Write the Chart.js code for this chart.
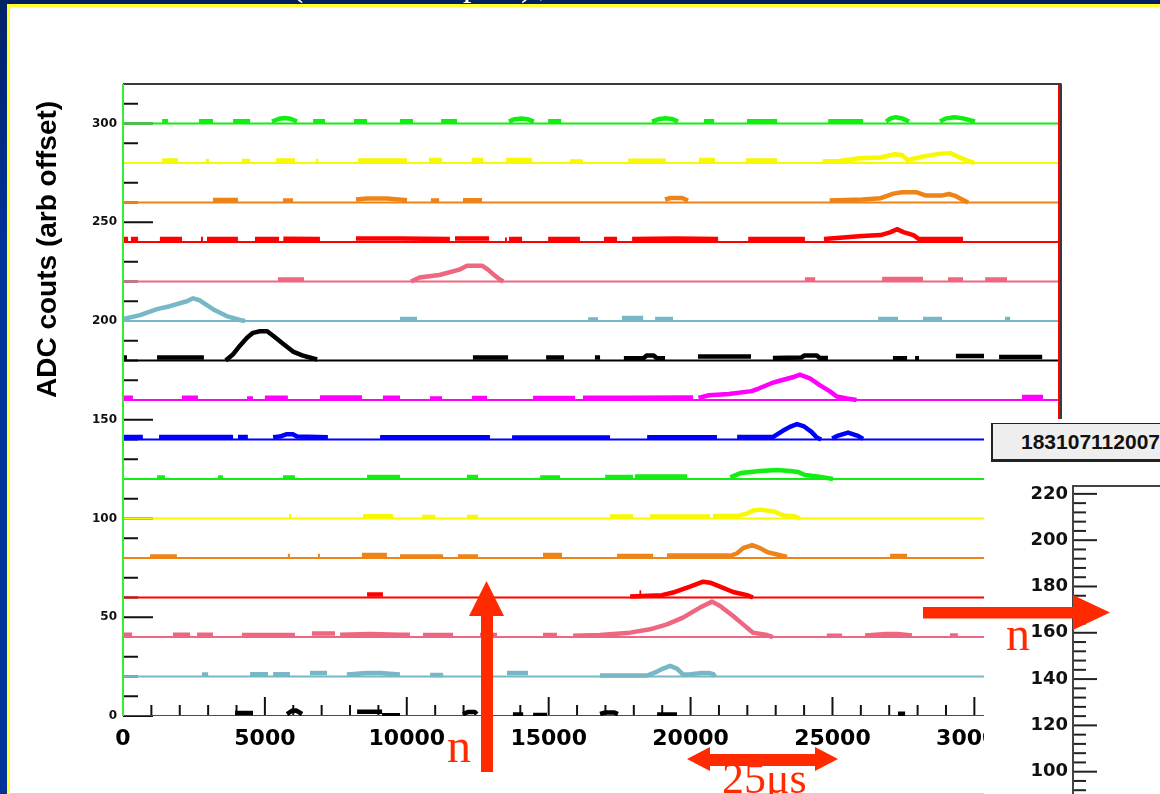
<!DOCTYPE html>
<html>
<head>
<meta charset="utf-8">
<script src="https://cdn.jsdelivr.net/npm/chart.js@4.4.1/dist/chart.umd.min.js"></script>
<style>
  html, body { margin: 0; padding: 0; }
  body { width: 1160px; height: 794px; overflow: hidden; position: relative; background: #002060; }
  .abs { position: absolute; }
  #leftBar { left: 0; top: 0; width: 7px; height: 794px; background: linear-gradient(#002266, #003399 30%, #003399); }
  #yellowEdge { left: 7px; top: 4px; right: 0; bottom: 0; background: #ffff33; }
  #slide { left: 10px; top: 7px; right: 0; bottom: 0; background: #fff; }
  #slideFoot { left: 10px; top: 793px; width: 974px; height: 1px; background: #dcd9a6; }
  #mainChart { left: 0; top: 0; }
  #sidePad { left: 984px; top: 419px; width: 176px; height: 375px; background: #fff; }
  #sideChart { left: 984px; top: 419px; }
  #runLabel { left: 991px; top: 423px; width: 220px; height: 35px; background: #eeeeee;
    border: 1px solid #222; border-left-width: 2px; border-bottom-width: 3px;
    font: bold 21px "Liberation Sans", Arial, sans-serif; line-height: 35px; padding-left: 28px;
    box-sizing: content-box; white-space: nowrap; color: #111; }
  #notes { left: 0; top: 0; }
</style>
</head>
<body>
<div id="leftBar" class="abs"></div>
<div id="yellowEdge" class="abs"></div>
<div id="slide" class="abs"></div>
<div id="slideFoot" class="abs"></div>
<canvas id="mainChart" class="abs" width="1160" height="794" style="width:1160px;height:794px"></canvas>
<div id="sidePad" class="abs"></div>
<canvas id="sideChart" class="abs" width="200" height="600" style="width:200px;height:600px"></canvas>
<div id="runLabel" class="abs">183107112007</div>
<svg id="notes" class="abs" width="1160" height="794">
  <g fill="#ff2a00">
    <rect x="481" y="615" width="12" height="157"/>
    <polygon points="469,616 504,616 486.5,581"/>
    <rect x="923" y="607" width="151" height="11.5"/>
    <polygon points="1073,595 1073,630 1110,612.5"/>
    <rect x="709" y="754" width="107" height="12"/>
    <polygon points="710,747 710,771 687,759"/>
    <polygon points="815,747 815,771 838,759"/>
  </g>
  <g fill="#ff2a00" font-family="Liberation Serif, serif">
    <text x="447" y="762" font-size="48">n</text>
    <text x="1006" y="650" font-size="48">n</text>
    <text x="722" y="793" font-size="44">25μs</text>
  </g>
  <g fill="#ffffff" font-family="Liberation Serif, serif" font-size="34">
    <text x="292" y="-4">(</text>
    <text x="463" y="-4">p</text>
    <text x="521" y="-4">)</text>
    <text x="539" y="-4">,</text>
  </g>
</svg>

<script>
// tick labels
const xTicks = [0, 5000, 10000, 15000, 20000, 25000, 30000];
const yTicks = [0, 50, 100, 150, 200, 250, 300];
const sideTicks = [0, 20, 40, 60, 80, 100, 120, 140, 160, 180, 200, 220];

// channel baselines (arb offset), top to bottom
const traceOffsets = [300, 280, 260, 240, 220, 200, 180, 160, 140, 120, 100, 80, 60, 40, 20, 0];

// pulses above each baseline: segments of [sample, ADC above baseline]
const sig300 = [
  [[1380,1.2],[1590,1.2]], [[2680,1.2],[3170,1.2]], [[3880,1.2],[4480,1.2]],
  [[5250,1],[5500,2.4],[5700,2.8],[5900,2.4],[6130,1]],
  [[6700,1.2],[7120,1.2]], [[8140,1.2],[8600,1.2]], [[9760,1.2],[10220,1.2]], [[11210,1.2],[11770,1.2]],
  [[13600,1],[13800,2.2],[14050,2.5],[14250,2.2],[14480,1]],
  [[14980,1.2],[15440,1.2]],
  [[18640,1],[18900,2.3],[19150,2.6],[19350,2.3],[19560,1]],
  [[20470,1.2],[20830,1.2]], [[21990,1.2],[23050,1.2]], [[24850,1.2],[26080,1.2]],
  [[26890,1],[27050,2.6],[27230,3.2],[27450,2.6],[27700,1]],
  [[28790,1],[29000,2.6],[29300,3.2],[29600,2.6],[30020,1]]
];
const sig280 = [
  [[1380,1.3],[1940,1.3]], [[2920,1],[3030,1]], [[4190,1],[4480,1]], [[5390,1.3],[6060,1.3]],
  [[6800,1],[6880,1]], [[8280,1.3],[10010,1.3]], [[10780,1.5],[11240,1.5]], [[12300,1.5],[12690,1.5]],
  [[13500,1.5],[14410,1.5]], [[15750,0.8],[16210,0.8]], [[17800,1.2],[19130,1.2]],
  [[20300,1.5],[20860,1.5]], [[21950,1.3],[23050,1.3]],
  [[24650,0.8],[25250,1],[25950,2.4],[26700,2.8],[27200,4.4],[27450,4],[27650,1.5],[28100,3],
   [28700,4.5],[29150,5],[29450,3],[29800,1],[30000,0]]
];
const sig260 = [
  [[3170,1.3],[4050,1.3]], [[5640,1],[5990,1]],
  [[8210,1.5],[8600,2],[9300,2],[10010,1.2]],
  [[10850,1],[11140,1]], [[11980,1.2],[12650,1.2]],
  [[19100,1.5],[19300,2.3],[19700,2.3],[19910,1]],
  [[24900,1],[26050,1.5],[26700,2.2],[27150,4.5],[27450,5.2],[27950,5.2],[28300,3.5],[28850,3.5],
   [29100,4.3],[29300,3.5],[29500,2],[29780,0]]
];
const sig240 = [
  [[0,1.5],[180,1.5]], [[280,1.5],[530,1.5]], [[1300,1.5],[2080,1.5]], [[2750,1.5],[2820,1.5]],
  [[2960,1.5],[4050,1.5]], [[4650,1.5],[5500,1.5]], [[5650,1.7],[6940,1.5]],
  [[8210,1.8],[9760,1.8],[11520,1.5]], [[11700,1.8],[12900,1.8]], [[13460,1.2],[13530,1.2]],
  [[13600,1.5],[14060,1.5]], [[14980,1.5],[16100,1.5]], [[16950,1.5],[17410,1.5]],
  [[17940,1.5],[19500,1.8],[20970,1.5]], [[22030,1.5],[24030,1.5]],
  [[24700,1.5],[26050,3],[26700,3.5],[27050,5],[27270,6.5],[27500,5],[27850,3.5],[28050,1.5],[29600,1.5]]
];
const sig220 = [
  [[5460,1],[6380,1]],
  [[10150,0],[10450,2],[11150,3.3],[11850,6],[12120,8],[12650,8],[12860,6],[13100,3],[13280,1],[13400,0]],
  [[24030,1],[24390,1]], [[26750,1.3],[28190,1.3]], [[29070,1],[29600,1]], [[30380,1],[31150,1]]
];
const sig200 = [
  [[0,1],[600,3],[1200,6],[1650,7.5],[2250,10],[2470,11.5],[2700,10.5],[3170,6],[3650,2.5],[4120,0.5],[4300,0]],
  [[9760,1],[10360,1]], [[16390,0.8],[16740,0.8]], [[17580,1.5],[18330,1.5]], [[18750,1],[19380,1]],
  [[26610,1],[27310,1]], [[28190,1],[28860,1]], [[31080,1],[31260,1]]
];
const sig180 = [
  [[0,1.5],[140,1.5]], [[1200,1.5],[2850,1.5]],
  [[3620,0],[3870,3],[4120,7.5],[4370,11.5],[4580,14],[4830,14.8],[5080,14.8],[5290,12.5],[5640,8.5],
   [5990,4.5],[6340,2.5],[6840,0.5]],
  [[12330,1.5],[13570,1.5]], [[14910,1.5],[15540,1.5]], [[16630,1.5],[16810,1.5]],
  [[17650,1.2],[18350,1.3],[18450,2.5],[18700,2.5],[18800,1.3],[19100,1.2]],
  [[20260,2],[22130,2]],
  [[22900,1.3],[23900,1.5],[24000,2.5],[24450,2.5],[24550,1.3],[24840,1.3]],
  [[27130,1.2],[27630,1.2]], [[27910,1.2],[28050,1.2]], [[29350,2.3],[30340,2.3]], [[30870,1.8],[32390,1.8]]
];
const sig160 = [
  [[0,1.2],[350,1.2]], [[2080,1.2],[2640,1.2]], [[4370,0.8],[4580,0.8]], [[5000,1.2],[5810,1.2]],
  [[6940,1.3],[8420,1.3]], [[9160,1.2],[9760,1.2]], [[10820,0.8],[11240,0.8]], [[12300,1],[12830,1]],
  [[14450,1],[15930,1]], [[16210,1.2],[17760,1.2],[20090,1.3]],
  [[20280,1],[20650,2.4],[21350,3],[22150,4.5],[22400,5.8],[22850,8.5],[23200,10],[23600,11.5],
   [23850,12.8],[24200,11],[24550,7.5],[24900,4.5],[25150,1.8],[25500,0.8],[25850,0]],
  [[31680,1.5],[32420,1.5]]
];
const sig140 = [
  [[0,1.3],[700,1.3]], [[1270,1.3],[3880,1.3]], [[4050,1.3],[4400,1.3]],
  [[5290,1.2],[5530,1.5],[5750,2.6],[6000,2.6],[6130,1.5],[7220,1.2]],
  [[9060,1.2],[12930,1.2]], [[13710,1],[17160,1]], [[18470,1.2],[20930,1.2]],
  [[21640,1.3],[22910,1.3],[23250,4.4],[23500,6.4],[23750,7.8],[24000,6.6],[24250,4],[24450,1],[24600,0]],
  [[24990,0.5],[25200,2],[25550,3.5],[25870,2],[26080,0.3]]
];
const sig120 = [
  [[1200,0.8],[1480,0.8]], [[3350,0.8],[3520,0.8]], [[5640,0.8],[6060,0.8]], [[8600,1],[9760,1]],
  [[12120,1],[12510,1]], [[14700,0.8],[15400,0.8]], [[16990,1],[17970,1]], [[18040,1.3],[19880,1.3]],
  [[21400,0.8],[21760,3],[22450,4],[23050,4.5],[23500,4],[23800,3.5],[24030,2],[24540,1.2],[25020,0]]
];
const sig100 = [
  [[5850,1.2],[5920,1.2]], [[8460,1.2],[9520,1.2]], [[10540,0.7],[11000,0.7]], [[12120,0.7],[12510,0.7]],
  [[17160,1],[17970,1]], [[18570,1],[20690,1]],
  [[20790,1.3],[21640,1.3],[21980,2.5],[22200,4],[22450,4.5],[22950,3.5],[23300,1.5],[23650,1.2],[23850,0]]
];
const sig80 = [
  [[950,0.8],[1900,0.8]], [[5810,1],[5880,1]], [[6870,1],[6940,1]], [[8420,1.5],[9300,1.5]],
  [[9760,0.8],[11280,0.8]], [[11800,0.8],[12510,0.8]], [[14800,1.5],[15470,1.5]], [[17410,1],[18680,1]],
  [[19170,1.3],[21320,1.3],[21390,1],[21640,2.4],[21850,5],[22170,6.5],[22450,5],[22700,3],[23050,1.8],[23400,0.5]],
  [[27030,1],[27630,1]]
];
const sig60 = [
  [[8600,1.5],[9160,1.5]], [[18200,2.5],[18260,2.5]],
  [[17870,0.5],[18990,1.2],[19380,2.5],[19980,5.5],[20440,8],[20690,7.5],[21040,5.5],[21500,2.8],[21990,1.2],[22200,0]]
];
const sig40 = [
  [[0,1.2],[320,1.2]], [[1760,1.2],[2360,1.2]], [[2610,1.2],[3170,1.2]], [[4190,1],[6060,1]],
  [[6660,1.8],[7470,1.8]], [[7650,1.2],[8700,1.5],[9760,1.2],[10110,1.2]], [[10570,1],[11630,1]],
  [[12580,1],[13180,1]], [[14800,1],[15290,1]],
  [[15860,0.6],[16810,1],[17870,2.2],[18570,3.9],[19170,6.4],[19730,9.8],[20330,14.9],[20760,17.9],
   [21040,15.7],[21500,10.6],[21850,6.4],[22200,2.2],[22700,1],[22900,0]],
  [[24800,0.6],[25340,0.6]], [[26150,0.8],[26900,1.5],[27300,1.5],[27800,0.8]], [[29140,0.8],[29420,0.8]]
];
const sig20 = [
  [[2780,1],[3000,1]], [[4480,1.2],[5110,1.2]], [[5290,1.2],[5880,1.2]], [[6590,1.8],[7190,1.8]],
  [[7890,1],[8600,1.8],[9060,1.8],[9760,1]], [[10820,0.8],[11280,0.8]], [[13530,1.8],[14270,1.8]],
  [[16810,0.5],[18470,0.5],[18820,2.5],[19030,4],[19280,5.4],[19520,4],[19740,1],[20000,1.2],
   [20400,1.8],[20650,1.8],[20800,1.2],[20860,0]]
];
const sig0 = [
  [[3950,1.5],[4580,1.5]], [[5780,1],[5950,2.6],[6100,2.8],[6310,1]], [[8250,2.2],[9130,2.2]],
  [[9130,0.4],[9760,0.4]], [[11980,1],[12150,2],[12400,2],[12470,1]], [[13740,0.8],[14100,0.8]],
  [[14450,0.5],[14940,0.5]], [[16810,1],[17000,1.8],[17300,1.8],[17440,1]], [[18820,0.8],[19520,0.8]],
  [[27310,1.2],[27560,1.2]]
];
const traceSignals = [sig300, sig280, sig260, sig240, sig220, sig200, sig180, sig160,
                      sig140, sig120, sig100, sig80, sig60, sig40, sig20, sig0];

// styles
const baseColors = ['#11ee11', '#f8f800', '#ee8418', '#ff0000', '#ee6680', '#77b7c6', '#000000', '#ff00ff',
                    '#0000ff', '#11ee11', '#f8f800', '#ee8418', '#ff0000', '#ee6680', '#77b7c6', '#ff0000'];
const pulseColors = baseColors.slice(0, 15).concat(['#000000']);

const X_MAX = 33000;
const Y_MAX = 320;

function pulsePoints(segs, off) {
  const pts = [];
  segs.forEach(seg => {
    seg.forEach(([x, v]) => pts.push({x: x, y: off + v}));
    pts.push({x: seg[seg.length - 1][0], y: null});
  });
  return pts;
}

const datasets = [];
traceOffsets.forEach((off, i) => {
  datasets.push({
    data: pulsePoints(traceSignals[i], off),
    borderColor: pulseColors[i], borderWidth: 4.5, borderJoinStyle: 'round'
  });
  datasets.push({
    data: [{x: 0, y: off}, {x: X_MAX, y: off}],
    borderColor: baseColors[i], borderWidth: 2
  });
});

const rootFrame = {
  id: 'rootFrame',
  beforeDatasetsDraw(chart) {
    const {ctx, chartArea: a, scales: {x, y}} = chart;
    ctx.save();
    ctx.strokeStyle = '#111';
    ctx.lineWidth = 2;
    for (let v = 0; v < Y_MAX; v += 10) {
      const py = y.getPixelForValue(v);
      ctx.beginPath();
      ctx.moveTo(a.left, py);
      ctx.lineTo(a.left + (v % 50 === 0 ? 30 : 15), py);
      ctx.stroke();
    }
    for (let v = 0; v < X_MAX; v += 1000) {
      const px = x.getPixelForValue(v);
      ctx.beginPath();
      ctx.moveTo(px, a.bottom);
      ctx.lineTo(px, a.bottom - (v % 5000 === 0 ? 19 : 11));
      ctx.stroke();
    }
    ctx.restore();
  },
  afterDatasetsDraw(chart) {
    const {ctx, chartArea: a} = chart;
    ctx.save();
    ctx.lineWidth = 2;
    ctx.strokeStyle = '#3a3a3a';
    ctx.beginPath(); ctx.moveTo(a.left, a.top); ctx.lineTo(a.right + 2, a.top); ctx.stroke();
    ctx.beginPath(); ctx.moveTo(a.right + 1.5, a.top); ctx.lineTo(a.right + 1.5, a.bottom); ctx.stroke();
    ctx.strokeStyle = '#ff0000';
    ctx.beginPath(); ctx.moveTo(a.right - 0.5, a.top + 1); ctx.lineTo(a.right - 0.5, a.bottom); ctx.stroke();
    ctx.strokeStyle = '#33ee33';
    ctx.beginPath(); ctx.moveTo(a.left, a.top); ctx.lineTo(a.left, a.bottom); ctx.stroke();
    ctx.restore();
  },
  afterDraw(chart) {
    const ctx = chart.ctx;
    ctx.save();
    ctx.translate(56, 398);
    ctx.rotate(-Math.PI / 2);
    ctx.font = 'bold 28px "Liberation Sans", Arial, sans-serif';
    ctx.fillStyle = '#000';
    ctx.textAlign = 'left';
    ctx.textBaseline = 'alphabetic';
    ctx.fillText('ADC couts (arb offset)', 0, 0);
    ctx.restore();
  }
};

new Chart(document.getElementById('mainChart'), {
  type: 'line',
  data: {datasets: datasets},
  options: {
    responsive: false,
    animation: false,
    devicePixelRatio: 1,
    layout: {padding: {left: 0, top: 84, right: 100.5, bottom: 0}},
    plugins: {legend: {display: false}, tooltip: {enabled: false}},
    elements: {point: {radius: 0}, line: {tension: 0}},
    scales: {
      x: {
        type: 'linear', min: 0, max: X_MAX,
        grid: {display: false, drawTicks: false}, border: {display: false},
        afterFit(s) { s.height = 78; },
        afterBuildTicks(s) { s.ticks = xTicks.map(v => ({value: v})); },
        ticks: {
          autoSkip: false, maxRotation: 0, padding: 10, color: '#000',
          font: {family: 'DejaVu Sans', weight: 'bold', size: 22},
          callback: v => String(v)
        }
      },
      y: {
        type: 'linear', min: 0, max: Y_MAX,
        grid: {display: false, drawTicks: false}, border: {display: false},
        afterFit(s) { s.width = 123; },
        afterBuildTicks(s) { s.ticks = yTicks.map(v => ({value: v})); },
        ticks: {
          padding: 6, color: '#111',
          font: {family: 'DejaVu Sans', weight: 'bold', size: 12},
          callback: v => String(v)
        }
      }
    }
  },
  plugins: [rootFrame]
});

const sideFrame = {
  id: 'sideFrame',
  afterDraw(chart) {
    const {ctx, chartArea: a, scales: {y}} = chart;
    ctx.save();
    ctx.strokeStyle = '#222';
    ctx.lineWidth = 2;
    for (let v = 0; v <= y.max; v += 4) {
      const py = y.getPixelForValue(v);
      if (py < a.top + 4) continue;
      ctx.beginPath();
      ctx.moveTo(a.left, py);
      ctx.lineTo(a.left + (v % 20 === 0 ? 24 : 13), py);
      ctx.stroke();
    }
    ctx.strokeStyle = '#444';
    ctx.beginPath();
    ctx.moveTo(a.left, a.bottom);
    ctx.lineTo(a.left, a.top);
    ctx.lineTo(chart.width, a.top);
    ctx.stroke();
    ctx.restore();
  }
};

new Chart(document.getElementById('sideChart'), {
  type: 'line',
  data: {datasets: []},
  options: {
    responsive: false,
    animation: false,
    devicePixelRatio: 1,
    layout: {padding: {left: 0, top: 67, right: 0, bottom: 10}},
    plugins: {legend: {display: false}, tooltip: {enabled: false}},
    scales: {
      x: {type: 'linear', min: 0, max: 1, display: false},
      y: {
        type: 'linear', min: 0, max: 223.4,
        grid: {display: false, drawTicks: false}, border: {display: false},
        afterFit(s) { s.width = 89; },
        afterBuildTicks(s) { s.ticks = sideTicks.map(v => ({value: v})); },
        ticks: {
          padding: 5, color: '#111',
          font: {family: 'DejaVu Sans', weight: 'bold', size: 18},
          callback: v => String(v)
        }
      }
    }
  },
  plugins: [sideFrame]
});
</script>
</body>
</html>
